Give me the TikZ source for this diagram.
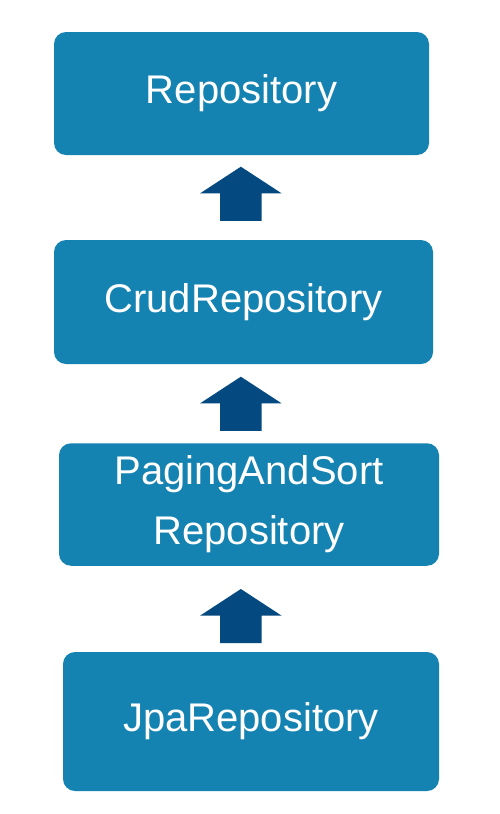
\documentclass[tikz,border=0pt]{standalone}
\usepackage{fontspec}
\setmainfont{Liberation Sans}
\usetikzlibrary{positioning}
\definecolor{boxblue}{RGB}{21,131,177}
\definecolor{arrowblue}{RGB}{4,73,127}
\tikzset{
  repobox/.style={fill=boxblue, rounded corners=12pt, inner sep=0pt, align=center,
    text=white, font=\fontsize{40}{60}\selectfont},
  uparrow/.style={fill=arrowblue}
}

\begin{document}
\begin{tikzpicture}[x=1pt,y=-1pt]
\fill[white] (0,0) rectangle (499,814);
\useasboundingbox (0,0) rectangle (499,814);
\node[repobox, minimum width=375pt, minimum height=123pt] (repo) at (241.5,93.5) {Repository};
\node[repobox, minimum width=379pt, minimum height=124pt] (crud) at (243.5,302) {CrudRepository};
\node[repobox, minimum width=380pt, minimum height=122.5pt] (paging) at (249,504.5) {PagingAndSort\\Repository};
\node[repobox, minimum width=376pt, minimum height=139pt] (jpa) at (251,721.5) {JpaRepository};
% block arrows between the boxes
\foreach \y in {166.7,376.7,589}
  \fill[uparrow] (240.85,\y) -- ++(40.85,26.7) -- ++(-20,0) -- ++(0,27.4)
    -- ++(-41.7,0) -- ++(0,-27.4) -- ++(-20,0) -- cycle;
\end{tikzpicture}
\end{document}
